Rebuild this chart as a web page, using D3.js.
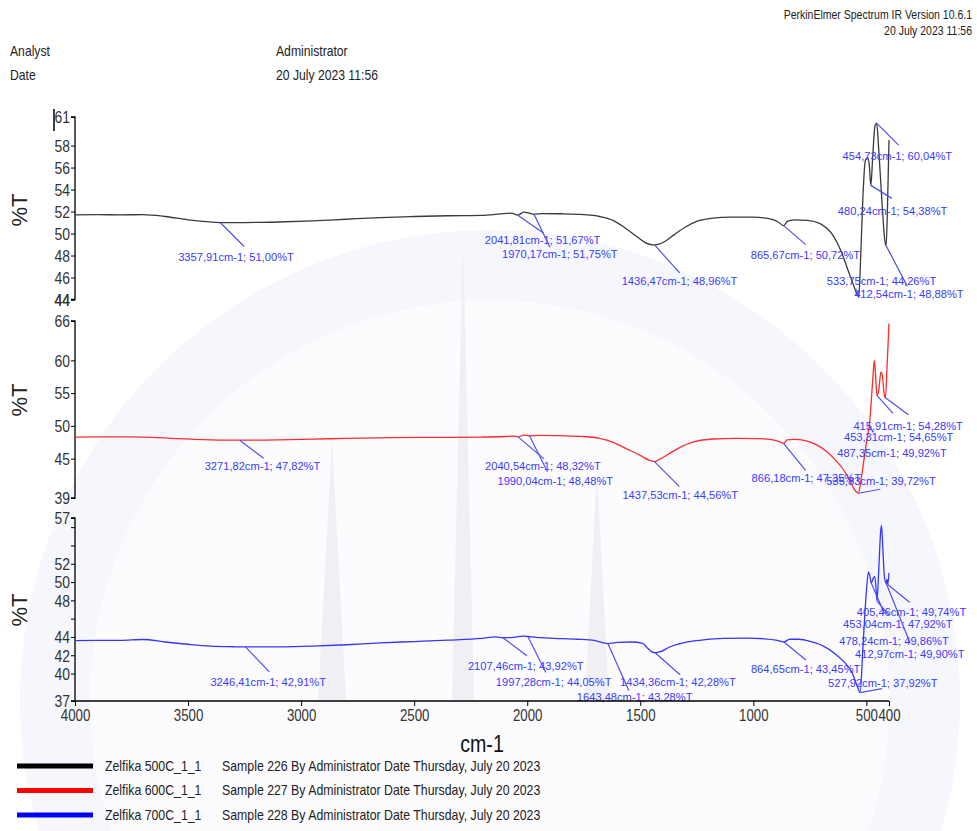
<!DOCTYPE html>
<html>
<head>
<meta charset="utf-8">
<script src="https://cdn.jsdelivr.net/npm/d3@7"></script>
<style>
  html, body { margin: 0; padding: 0; background: #fff; }
  svg { display: block; }
  text { font-family: "Liberation Sans", Arial, sans-serif; }
</style>
</head>
<body>
<svg id="chart" width="977" height="831"></svg>
<script>
// ---- spectra: wavenumber (cm-1) and transmittance (%T) ----
const s500Wave = [4000,3900,3800,3700,3600,3500,3420,3357.91,3250,3100,2950,2800,2650,2500,2350,2200,2120,2070,2041.81,2015,1990,1970.17,1930,1850,1750,1680,1620,1570,1520,1480,1450,1436.47,1415,1390,1350,1300,1250,1180,1100,1000,930,890,865.67,850,820,760,705,650,610,580,555,540,533.75,525,515,505,495,488,480.24,472,462,454.73,445,430,418,412.54,406,400];
const s500T    = [51.70,51.72,51.70,51.72,51.55,51.25,51.08,51.00,51.00,51.05,51.15,51.30,51.45,51.55,51.62,51.65,51.78,51.85,51.67,51.95,51.85,51.75,51.82,51.80,51.72,51.55,51.20,50.55,49.80,49.20,48.98,48.96,49.05,49.30,49.90,50.60,51.10,51.40,51.50,51.50,51.35,51.05,50.72,51.10,51.25,51.20,50.90,49.90,48.30,46.60,45.20,44.40,44.26,48.0,53.5,56.6,56.9,56.4,54.38,57.0,59.8,60.04,57.5,52.5,49.3,48.88,53.0,58.5];

const s600Wave = [4000,3850,3700,3550,3400,3271.82,3100,2950,2800,2600,2400,2200,2100,2060,2040.54,2015,1990.04,1950,1850,1750,1680,1620,1560,1500,1460,1437.53,1410,1370,1320,1260,1180,1080,980,920,885,866.18,850,820,770,720,680,640,605,575,555,540,535.83,525,510,495,487.35,478,470,465,459,453.31,445,436,430,422,415.91,408,400];
const s600T    = [48.30,48.32,48.30,48.05,47.88,47.82,47.88,47.98,48.10,48.20,48.25,48.30,48.38,48.45,48.32,48.60,48.48,48.55,48.50,48.38,48.10,47.50,46.50,45.50,44.75,44.56,45.00,45.80,46.80,47.60,48.00,48.10,48.05,47.90,47.60,47.35,47.85,47.95,47.75,47.10,46.20,44.90,43.50,41.80,40.40,39.80,39.72,41.5,45.0,48.5,49.92,54.0,58.0,60.0,57.5,54.65,55.5,58.2,57.8,55.0,54.28,59.5,65.6];

const s700Wave = [4000,3900,3800,3700,3600,3500,3400,3300,3246.41,3100,2950,2800,2650,2500,2350,2200,2140,2107.46,2060,2020,1997.28,1960,1880,1780,1700,1660,1643.48,1600,1540,1490,1465,1450,1434.36,1410,1370,1310,1230,1130,1030,950,900,864.65,840,800,740,690,640,600,565,540,527.92,515,500,491,484,478.24,470,463,458,453.04,445,437,433,427,420,412.97,409,405.46,400];
const s700T    = [43.60,43.62,43.62,43.72,43.45,43.20,43.00,42.93,42.91,42.92,43.00,43.15,43.35,43.50,43.65,43.85,44.00,43.92,43.95,44.10,44.05,43.95,43.85,43.75,43.60,43.35,43.28,43.40,43.45,43.30,42.70,42.40,42.28,42.40,42.90,43.35,43.65,43.85,43.88,43.80,43.65,43.45,43.75,43.75,43.45,43.00,42.20,41.30,40.20,38.60,37.92,43.0,49.0,51.1,50.6,49.86,50.4,50.6,49.5,47.92,51.5,55.5,56.2,53.5,50.5,49.90,50.3,49.74,51.0];

// ---- labelled peaks: [cm-1, %T] ----
const peaks500 = [[3357.91,51.00],[2041.81,51.67],[1970.17,51.75],[1436.47,48.96],[865.67,50.72],[533.75,44.26],[480.24,54.38],[454.73,60.04],[412.54,48.88]];
const peaks600 = [[3271.82,47.82],[2040.54,48.32],[1990.04,48.48],[1437.53,44.56],[866.18,47.35],[535.83,39.72],[487.35,49.92],[453.31,54.65],[415.91,54.28]];
const peaks700 = [[3246.41,42.91],[2107.46,43.92],[1997.28,44.05],[1643.48,43.28],[1434.36,42.28],[864.65,43.45],[527.92,37.92],[478.24,49.86],[453.04,47.92],[412.97,49.90],[405.46,49.74]];

// label placement per peak: [text dx, text dy (centre), leader dx, leader dy]
const place500 = [[-42,34,24,24],[-33,25,26,18],[-32,40,16,33],[-33,36,25,28],[-33,29,22,19],[-32,-16,-3,-8],[-33,26,21,13],[-34,33,22,22],[-32,48,21,40]];
const place600 = [[-35,26,24,18],[-33,29,26,22],[-32,45,18,36],[-32,33,25,25],[-32,35,22,27],[-32,-12,22,-4],[-32,27,4,6],[-33,42,16,18],[-32,28,23,17]];
const place700 = [[-35,35,24,25],[-35,28,24,18],[-32,45,18,36],[-31,53,21,47],[-35,29,25,22],[-33,27,22,18],[-32,-10,22,-4],[-32,58,13,30],[-34,23,12,14],[-31,71,24,60],[-31,28,22,18]];

// ---- axes ----
const xTicks = [4000,3500,3000,2500,2000,1500,1000,500,400];
const yTicks500 = [44,46,48,50,52,54,56,58];
const yTicks600 = [45,50,55,60];
const yTicks700 = [40,42,44,46,48,50,52,54,56];
const yLabelled700 = [40,42,44,48,50,52];

// ---- legend / header text ----
const legendNames = ["Zelfika 500C_1_1","Zelfika 600C_1_1","Zelfika 700C_1_1"];
const legendSamples = ["Sample 226 By Administrator Date Thursday, July 20 2023","Sample 227 By Administrator Date Thursday, July 20 2023","Sample 228 By Administrator Date Thursday, July 20 2023"];
const seriesColors = ["#3a3a3a","#ff2a2a","#3535ff"];
const legendColors = ["#000000","#ff0000","#0000ff"];

const svg = d3.select("#chart");

// condensed lettering: squeeze each text horizontally about its own anchor point
function narrow(sel, k) {
  sel.each(function () {
    const t = d3.select(this);
    const x0 = +(t.attr("x") || 0), y0 = +(t.attr("y") || 0);
    const prev = t.attr("transform") || "";
    t.attr("x", 0).attr("y", 0).attr("transform", `${prev} translate(${x0},${y0}) scale(${k},1)`);
  });
}

// faint background emblem
const wm = svg.append("g").attr("stroke", "none");
wm.append("circle").attr("cx", 490).attr("cy", 700).attr("r", 470).attr("fill", "#f6f7fc");
wm.append("circle").attr("cx", 490).attr("cy", 700).attr("r", 400).attr("fill", "#fcfcfe");
const spikes = wm.append("g").attr("fill", "#f0f0f4");
spikes.append("path").attr("d", "M463,238 L452,700 L474,700 Z");
spikes.append("path").attr("d", "M332,440 L318,700 L346,700 Z");
spikes.append("path").attr("d", "M597,470 L585,700 L609,700 Z");

// header
const hdr = svg.append("g").attr("fill", "#222");
const hr = hdr.append("g");
hr.append("text").attr("x", 972).attr("y", 19).attr("text-anchor", "end").attr("font-size", 12.5).text("PerkinElmer Spectrum IR Version 10.6.1");
hr.append("text").attr("x", 972).attr("y", 35).attr("text-anchor", "end").attr("font-size", 12.5).text("20 July 2023 11:56");
narrow(hr.selectAll("text"), 0.84);
const hl = hdr.append("g");
hl.append("text").attr("x", 10).attr("y", 56).attr("font-size", 14.5).text("Analyst");
hl.append("text").attr("x", 276).attr("y", 56).attr("font-size", 14.5).text("Administrator");
hl.append("text").attr("x", 10).attr("y", 80).attr("font-size", 14.5).text("Date");
hl.append("text").attr("x", 276).attr("y", 80).attr("font-size", 14.5).text("20 July 2023 11:56");
narrow(hl.selectAll("text"), 0.84);

const x = d3.scaleLinear().domain([4000, 400]).range([75, 889]);

const panels = [
  { wave: s500Wave, t: s500T, peaks: peaks500, place: place500, domain: [44, 60.6], range: [299.5, 117], ticks: yTicks500, labelled: yTicks500, color: seriesColors[0], ylab: 210 },
  { wave: s600Wave, t: s600T, peaks: peaks600, place: place600, domain: [39, 66], range: [498, 321], ticks: yTicks600, labelled: yTicks600, color: seriesColors[1], ylab: 400 },
  { wave: s700Wave, t: s700T, peaks: peaks700, place: place700, domain: [37, 57], range: [701, 518], ticks: yTicks700, labelled: yLabelled700, color: seriesColors[2], ylab: 610 }
];

const fmt = v => d3.format(".2f")(v).replace(".", ",");

panels.forEach(p => {
  const y = d3.scaleLinear().domain(p.domain).range(p.range);
  const g = svg.append("g");

  // left axis with end labels showing the rounded range limits
  const ends = [p.domain[0], p.domain[1]];
  const axis = d3.axisLeft(y)
    .tickValues(p.ticks.concat(ends))
    .tickSize(4)
    .tickPadding(1)
    .tickFormat(v => (ends.includes(v) ? String(Math.round(v)) : (p.labelled.includes(v) ? String(v) : "")));
  const ag = g.append("g").attr("transform", "translate(75,0)").call(axis);
  ag.select(".domain").attr("stroke", "#000").attr("stroke-width", 1.3).attr("d", `M-4,${p.range[1]}H0V${p.range[0]}H-4`);
  ag.selectAll(".tick line").attr("stroke", "#000");
  const tl = ag.selectAll(".tick text").attr("font-size", 17).attr("fill", "#333").attr("dy", "0.34em")
    .style("font-family", '"Liberation Sans", Arial, sans-serif');
  narrow(tl, 0.82);

  g.append("text")
    .attr("transform", `translate(27,${p.ylab}) rotate(-90)`)
    .attr("text-anchor", "middle").attr("font-size", 22).attr("fill", "#222").text("%T");

  // spectrum
  const pts = p.wave.map((w, i) => [w, p.t[i]]);
  const line = d3.line().x(d => x(d[0])).y(d => y(d[1])).curve(d3.curveMonotoneX);
  g.append("path").datum(pts).attr("d", line)
    .attr("fill", "none").attr("stroke", p.color).attr("stroke-width", 1.3).attr("stroke-linejoin", "round");

  // peak annotations
  const ann = g.append("g");
  p.peaks.forEach((pk, i) => {
    const px = x(pk[0]), py = y(pk[1]);
    const [tx, ty, ex, ey] = p.place[i];
    ann.append("line").attr("x1", px).attr("y1", py).attr("x2", px + ex).attr("y2", py + ey)
      .attr("stroke", "#5050f0").attr("stroke-width", 1.2);
    ann.append("text")
      .attr("x", px + tx).attr("y", py + ty).attr("dy", "0.35em")
      .attr("font-size", 11.6).attr("fill", "#3a3aff")
      .text(`${fmt(pk[0])}cm-1; ${fmt(pk[1])}%T`);
  });
  narrow(ann.selectAll("text"), 0.96);
});

// small marker at the top of the upper axis
svg.append("line").attr("x1", 54).attr("x2", 54).attr("y1", 109).attr("y2", 131).attr("stroke", "#000").attr("stroke-width", 1.5);

// bottom wavenumber axis
const xa = svg.append("g").attr("transform", "translate(0,701)")
  .call(d3.axisBottom(x).tickValues(xTicks).tickSize(5).tickPadding(3).tickFormat(d3.format("d")));
xa.select(".domain").attr("stroke", "#000").attr("stroke-width", 1.3).attr("d", "M75,0H889");
xa.selectAll(".tick line").attr("stroke", "#000");
const xl = xa.selectAll(".tick text").attr("font-size", 17).attr("fill", "#333")
  .style("font-family", '"Liberation Sans", Arial, sans-serif');
narrow(xl, 0.78);

const cm = svg.append("text").attr("x", 482).attr("y", 752)
  .attr("text-anchor", "middle").attr("font-size", 24).attr("fill", "#111").text("cm-1");
narrow(cm, 0.82);

// legend
const lg = svg.append("g");
legendNames.forEach((n, i) => {
  const yy = 766 + i * 24.5;
  lg.append("line").attr("x1", 17).attr("x2", 93).attr("y1", yy).attr("y2", yy)
    .attr("stroke", legendColors[i]).attr("stroke-width", 5);
  lg.append("text").attr("x", 105).attr("y", yy).attr("dy", "0.35em")
    .attr("font-size", 14).attr("fill", "#222").text(n);
  lg.append("text").attr("x", 222).attr("y", yy).attr("dy", "0.35em")
    .attr("font-size", 14).attr("fill", "#222").text(legendSamples[i]);
});
narrow(lg.selectAll("text"), 0.88);
</script>
</body>
</html>
